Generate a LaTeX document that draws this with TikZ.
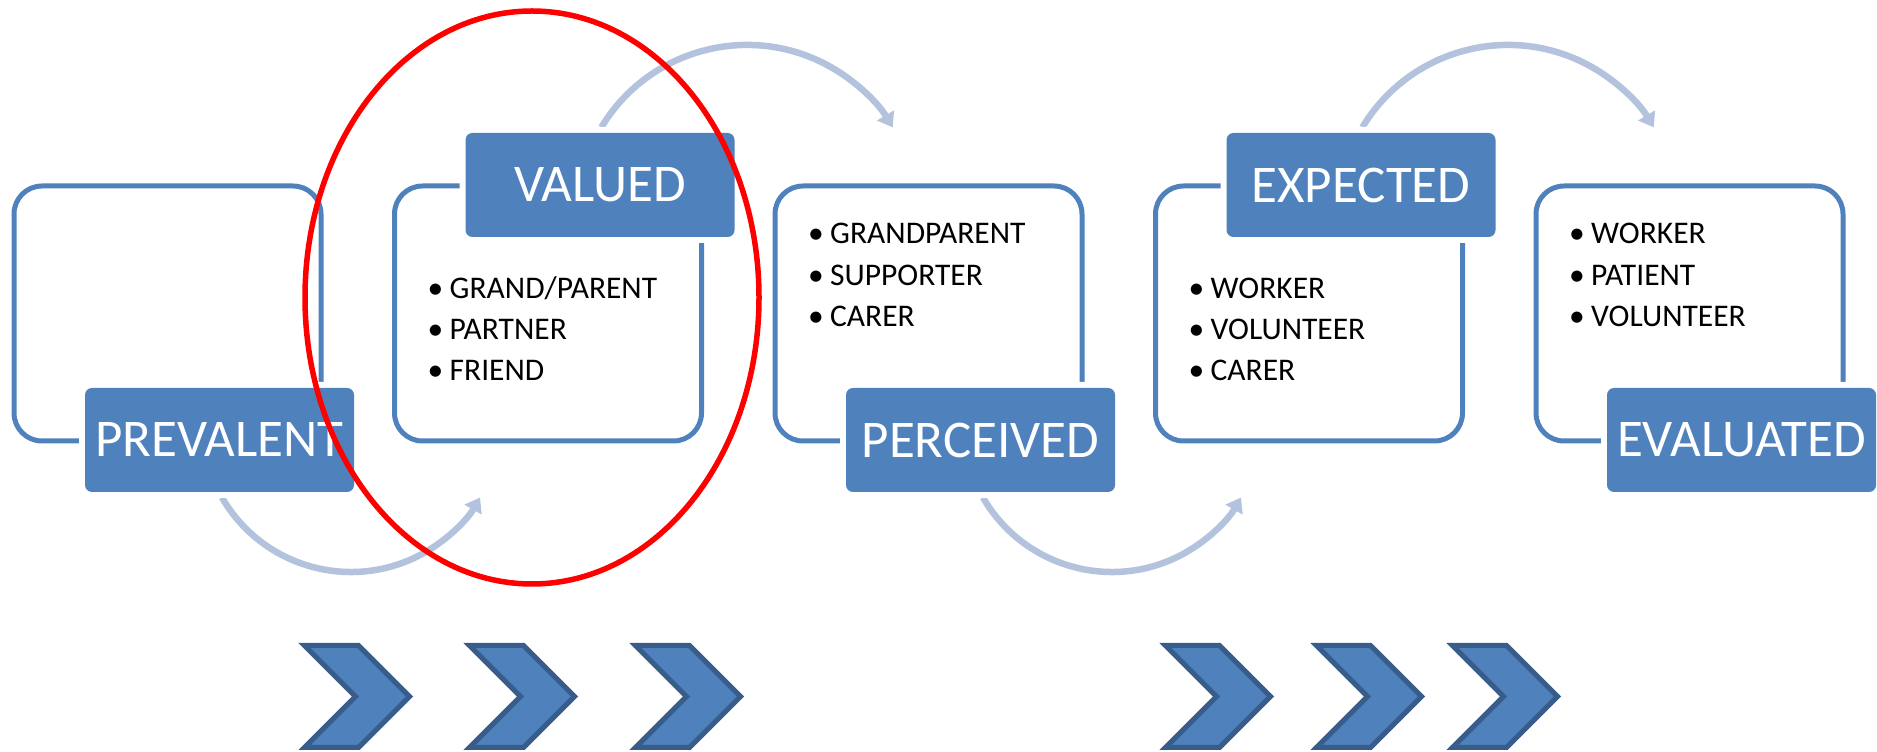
\documentclass[tikz,border=0pt]{standalone}
\usepackage{fontspec}
\setmainfont{Carlito}
\usetikzlibrary{arrows.meta,shapes.geometric}
\definecolor{accent}{HTML}{4F81BD}
\definecolor{accentdark}{HTML}{385D8A}
\definecolor{arrowblue}{RGB}{179,195,222}
\newcommand\bitem[1]{\makebox[22pt][l]{\textbullet}#1}
\begin{document}
\begin{tikzpicture}[x=1pt,y=1pt,
  outlinebox/.style={draw=accent, line width=5pt, rounded corners=28pt,
    minimum width=307pt, minimum height=255pt, inner sep=0pt},
  labelbox/.style={fill=accent, rounded corners=7pt, minimum width=269pt,
    minimum height=104pt, inner sep=0pt, text=white,
    font=\fontsize{53}{60}\selectfont,
    preaction={draw=white, line width=12pt}},
  item/.style={anchor=base west, inner sep=0pt, font=\fontsize{31.5}{40}\selectfont},
  flow/.style={draw=arrowblue, line width=6.5pt, -{Triangle[length=14pt,width=19pt]}},
  chev/.style={fill=accent, draw=accentdark, line width=5pt},
  focus/.style={ellipse, draw=red, line width=5.5pt, inner sep=0pt}
]
\useasboundingbox (0,0) rectangle (1877,752);
% outline boxes
\node[outlinebox] (o1) at (167.5,438.5) {};
\node[outlinebox] (o2) at (548,438.5) {};
\node[outlinebox] (o3) at (928.5,438.5) {};
\node[outlinebox] (o4) at (1309,438.5) {};
\node[outlinebox] (o5) at (1689.5,438.5) {};
% curved arrows
\coordinate (a1) at (221.96,254.5);
\coordinate (a2) at (601.3,624.6);
\coordinate (a3) at (982.96,254.5);
\coordinate (a4) at (1362.3,624.6);
\draw[flow] (a1) arc[start angle=-150, end angle=-30, radius=149pt];
\draw[flow] (a2) arc[start angle=149, end angle=31, radius=170pt];
\draw[flow] (a3) arc[start angle=-150, end angle=-30, radius=149pt];
\draw[flow] (a4) arc[start angle=149, end angle=31, radius=170pt];
% label boxes
\node[labelbox] (l1) at (219.5,312) {PREVALENT};
\node[labelbox] (l2) at (600,567) {VALUED};
\node[labelbox] (l3) at (980.5,312) {PERCEIVED};
\node[labelbox] (l4) at (1361,567) {EXPECTED};
\node[labelbox] (l5) at (1741.5,312) {EVALUATED};
% bullet lists
\node[item] (b2a) at (427.5,453) {\bitem{GRAND/PARENT}};
\node[item] (b2b) at (427.5,412) {\bitem{PARTNER}};
\node[item] (b2c) at (427.5,371) {\bitem{FRIEND}};
\node[item] (b3a) at (808,508) {\bitem{GRANDPARENT}};
\node[item] (b3b) at (808,466.5) {\bitem{SUPPORTER}};
\node[item] (b3c) at (808,425) {\bitem{CARER}};
\node[item] (b4a) at (1188.5,453) {\bitem{WORKER}};
\node[item] (b4b) at (1188.5,412) {\bitem{VOLUNTEER}};
\node[item] (b4c) at (1188.5,371) {\bitem{CARER}};
\node[item] (b5a) at (1569,508) {\bitem{WORKER}};
\node[item] (b5b) at (1569,466.5) {\bitem{PATIENT}};
\node[item] (b5c) at (1569,425) {\bitem{VOLUNTEER}};
% chevrons
\foreach \cx in {304.5,469.5,635.5,1165.5,1316.5,1452.5}
  \draw[chev] (\cx,106.5) -- ++(54,0) -- ++(51,-51) -- ++(-51,-51) -- ++(-54,0) -- ++(51,51) -- cycle;
% red ellipse
\node[focus, minimum width=454pt, minimum height=573pt] (ring) at (532,454.5) {};
\end{tikzpicture}
\end{document}
